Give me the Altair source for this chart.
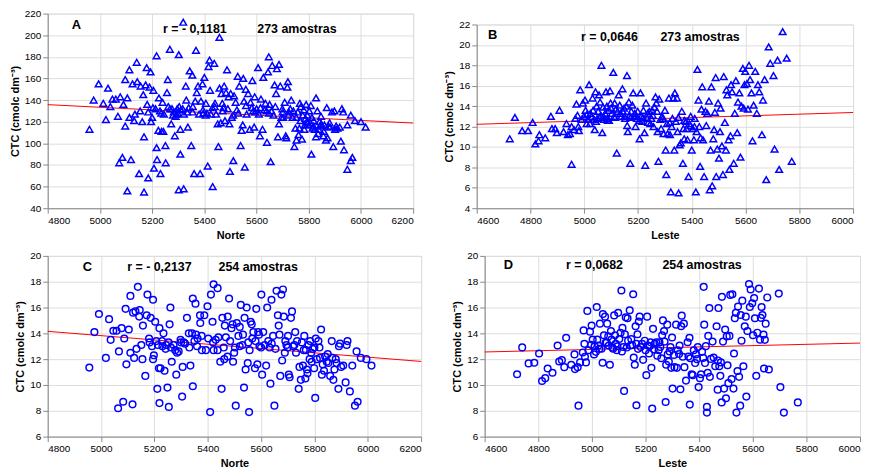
import altair as alt
import pandas as pd

# ---------------- data ----------------
# Panel A: Norte vs CTC (mmolc dm-3 scale), 273 amostras
A_points = [(4960,113),(4976,140),(4995,155),(5013,137),(5023,122),(5031,151),(5040,134),(5048,141),(5061,141),(5069,125),
(5074,82),(5078,143),(5086,87),(5090,136),(5097,116),(5097,159),(5105,56),(5105,142),(5113,168),(5113,124),
(5119,85),(5125,155),(5131,121),(5134,127),(5141,175),(5143,157),(5150,72),(5154,130),(5156,153),(5162,120),
(5166,145),(5169,106),(5169,55),(5175,154),(5179,170),(5181,136),(5185,129),(5185,68),(5190,152),(5194,166),
(5196,120),(5200,124),(5203,133),(5205,149),(5207,77),(5213,132),(5217,96),(5217,181),(5219,85),(5224,112),
(5226,142),(5230,130),(5232,72),(5236,111),(5240,138),(5243,111),(5245,127),(5251,98),(5252,82),(5257,147),
(5260,159),(5268,187),(5268,132),(5273,118),(5276,132),(5283,129),(5287,107),(5290,125),(5293,127),(5296,132),
(5302,57),(5302,182),(5304,134),(5308,90),(5308,113),(5317,132),(5321,58),(5319,212),(5329,153),(5331,140),
(5334,129),(5337,115),(5344,167),(5350,98),(5354,163),(5356,134),(5361,72),(5365,139),(5368,186),(5371,147),
(5376,153),(5380,127),(5384,72),(5387,139),(5393,155),(5396,128),(5400,161),(5406,137),(5410,128),(5413,79),
(5416,171),(5420,177),(5422,149),(5425,127),(5431,133),(5432,60),(5438,174),(5441,137),(5445,127),(5451,118),
(5454,97),(5458,198),(5458,151),(5463,119),(5466,146),(5469,137),(5473,133),(5476,153),(5479,121),(5483,147),
(5487,168),(5490,132),(5493,143),(5496,118),(5498,74),(5501,146),(5505,124),(5511,84),(5514,144),(5520,138),
(5528,162),(5530,128),(5534,153),(5539,98),(5543,112),(5547,117),(5549,160),(5552,139),(5555,78),(5559,150),
(5562,127),(5568,146),(5574,113),(5577,138),(5582,133),(5584,158),(5587,130),(5591,115),(5593,143),(5600,132),
(5606,170),(5609,127),(5613,107),(5617,141),(5623,113),(5626,161),(5630,131),(5634,137),(5638,130),(5640,101),
(5644,166),(5647,180),(5650,136),(5654,83),(5657,130),(5660,172),(5665,126),(5669,154),(5675,146),(5678,169),
(5682,106),(5686,173),(5686,118),(5691,153),(5695,124),(5699,132),(5702,124),(5708,138),(5712,107),(5714,105),
(5718,152),(5720,157),(5724,129),(5729,132),(5733,140),(5738,124),(5741,130),(5745,97),(5749,114),(5753,103),
(5758,129),(5761,108),(5764,114),(5766,137),(5770,134),(5774,104),(5777,126),(5781,131),(5783,113),(5787,123),
(5790,136),(5792,120),(5796,119),(5800,117),(5802,130),(5808,135),(5810,90),(5812,124),(5815,114),(5819,121),
(5823,113),(5828,142),(5828,106),(5833,130),(5836,109),(5841,120),(5845,117),(5847,125),(5851,116),(5856,107),
(5860,117),(5866,103),(5869,133),(5872,105),(5876,116),(5882,115),(5889,129),(5894,97),(5898,130),(5901,113),
(5910,114),(5919,115),(5923,102),(5927,132),(5932,129),(5935,94),(5948,117),(5948,76),(5961,126),(5961,84),
(5967,87),(5977,121),(6000,120),(6018,115),
(5235,128),(5262,134),(5280,126),(5298,128),(5310,131),(5322,127),(5340,133),(5355,129),(5395,131),(5405,126),
(5440,134),(5470,130),(5510,126),(5525,131),(5560,135),(5595,129),(5615,133),(5648,128),(5672,134),(5700,129),
(5722,126),(5752,124),(5768,121),(5785,117),(5795,126),(5806,119),(5818,116),(5838,113),(5848,118),(5858,111),
(5880,119),(5905,116)]

# Panel B: Leste vs CTC (cmolc dm-3), 273 amostras
B_points = [(4723,10.8),(4742,12.9),(4769,11.6),(4791,11.6),(4808,12.4),(4818,10.3),(4830,10.6),(4833,11.2),(4855,10.9),(4876,13.0),
(4880,11.8),(4892,11.8),(4898,11.4),(4908,13.6),(4923,11.5),(4934,12.3),(4939,11.2),(4947,11.3),(4953,8.3),(4953,12.0),
(4962,11.7),(4967,12.8),(4971,14.2),(4975,13.1),(4978,12.0),(4980,11.6),(4985,15.6),(4990,12.7),(4995,14.3),(4999,13.0),
(5003,14.6),(5005,13.6),(5009,12.3),(5014,12.7),(5018,16.1),(5021,12.3),(5023,13.3),(5027,13.0),(5031,14.8),(5036,12.7),
(5039,11.7),(5042,15.4),(5046,14.0),(5048,12.8),(5052,13.5),(5055,15.1),(5059,14.4),(5062,13.1),(5064,18.0),(5067,11.4),
(5070,13.9),(5074,12.7),(5078,13.3),(5081,15.4),(5084,14.0),(5086,12.8),(5090,13.6),(5092,12.6),(5096,15.5),(5098,14.3),
(5103,13.3),(5108,17.3),(5111,13.0),(5113,14.3),(5117,13.7),(5121,9.4),(5124,13.5),(5128,15.1),(5132,14.1),(5138,13.0),
(5142,15.7),(5144,13.5),(5148,13.8),(5150,13.0),(5156,14.0),(5159,17.0),(5160,12.1),(5162,11.5),(5166,14.4),(5169,13.1),
(5171,8.4),(5175,13.5),(5179,14.1),(5182,15.3),(5185,13.0),(5188,13.3),(5191,12.0),(5196,12.8),(5199,13.5),(5206,10.8),
(5209,15.3),(5212,13.0),(5215,12.5),(5220,13.6),(5224,11.4),(5227,8.2),(5230,14.3),(5234,12.8),(5236,13.3),(5242,13.5),
(5246,12.3),(5250,12.8),(5255,13.1),(5258,12.0),(5261,13.9),(5265,14.9),(5268,14.3),(5271,13.5),(5273,11.5),(5276,8.6),
(5279,14.7),(5283,12.7),(5286,11.8),(5292,12.8),(5295,11.3),(5300,13.6),(5303,9.7),(5305,7.3),(5308,12.3),(5310,11.3),
(5315,14.8),(5319,11.2),(5322,5.6),(5325,12.0),(5328,12.8),(5332,14.8),(5335,9.7),(5337,15.3),(5341,12.5),(5345,14.8),
(5347,11.5),(5351,5.5),(5355,10.2),(5359,10.4),(5363,13.5),(5367,8.4),(5369,11.8),(5372,10.8),(5378,12.5),(5381,11.8),
(5384,10.7),(5388,7.1),(5391,12.3),(5396,13.0),(5400,9.7),(5404,11.8),(5408,10.7),(5411,12.8),(5415,5.6),(5418,11.5),
(5421,17.6),(5425,14.6),(5428,12.0),(5431,8.1),(5433,10.9),(5436,13.7),(5439,15.9),(5442,10.7),(5446,7.1),(5451,13.5),
(5454,12.1),(5458,13.3),(5464,14.5),(5467,5.8),(5470,9.7),(5473,15.9),(5476,6.2),(5480,10.8),(5483,11.7),(5486,13.4),
(5489,16.8),(5491,7.1),(5495,9.8),(5498,14.3),(5501,8.9),(5505,11.5),(5507,13.8),(5512,10.1),(5516,7.3),(5519,16.9),
(5523,12.4),(5527,9.7),(5529,15.6),(5532,15.1),(5537,10.7),(5540,7.8),(5544,11.1),(5546,16.1),(5550,15.4),(5556,8.4),
(5560,13.3),(5564,16.5),(5569,11.4),(5572,14.4),(5577,15.3),(5581,9.0),(5585,14.0),(5590,17.7),(5593,13.8),(5596,16.1),
(5599,17.4),(5605,16.2),(5609,13.7),(5613,18.0),(5617,16.6),(5622,15.3),(5626,10.6),(5630,14.1),(5636,17.4),(5642,13.3),
(5646,16.1),(5651,15.4),(5661,11.2),(5665,14.6),(5671,16.6),(5677,6.8),(5686,19.8),(5692,18.2),(5704,17.0),(5708,9.8),
(5719,18.5),(5725,7.8),(5738,21.3),(5753,18.7),(5772,8.6),
(5010,13.2),(5033,13.6),(5044,12.5),(5058,12.9),(5072,13.0),(5088,12.6),(5100,13.8),(5115,12.9),(5135,13.3),(5152,12.8),
(5172,12.9),(5193,13.1),(5205,12.6),(5218,12.9),(5238,12.4),(5252,13.6),(5290,13.0),(5318,12.4),(5350,12.9),(5372,12.6),
(5395,12.1),(5410,12.0)]

# Panel C: Norte vs CTC (cmolc dm-3), 254 amostras
C_points = [(4956,11.35),(4975,14.1),(4992,15.5),(5018,12.1),(5030,15.1),(5036,13.5),(5046,14.2),(5058,14.2),(5064,8.2),(5067,12.6),
(5077,14.4),(5083,8.7),(5087,13.6),(5092,15.9),(5095,11.6),(5104,14.3),(5110,12.5),(5110,16.9),(5118,8.5),(5120,15.6),
(5124,12.1),(5129,15.7),(5133,12.8),(5138,17.6),(5143,15.3),(5145,15.8),(5151,13.1),(5155,12.0),(5157,14.6),(5166,10.7),
(5171,15.4),(5174,17.0),(5180,13.6),(5182,13.3),(5186,15.2),(5191,13.0),(5195,12.0),(5195,16.6),(5198,12.3),(5203,14.9),
(5207,13.4),(5211,9.7),(5213,13.1),(5217,11.3),(5219,14.4),(5219,8.6),(5223,11.3),(5229,13.4),(5234,14.0),(5238,11.1),
(5242,12.8),(5244,13.1),(5249,9.8),(5253,13.3),(5254,8.3),(5257,14.7),(5260,16.0),(5265,11.8),(5272,13.1),(5278,12.7),
(5282,10.8),(5285,12.5),(5291,12.6),(5298,13.5),(5304,9.1),(5306,11.4),(5310,13.3),(5315,13.2),(5322,15.2),(5329,14.0),
(5331,12.9),(5335,11.5),(5341,14.0),(5344,9.9),(5344,16.7),(5350,13.4),(5354,16.3),(5356,13.9),(5362,13.6),(5371,15.4),
(5372,14.8),(5377,13.8),(5378,12.7),(5387,15.4),(5393,12.7),(5399,16.1),(5402,13.6),(5409,7.9),(5412,17.0),(5418,14.9),
(5422,17.8),(5422,12.7),(5430,13.5),(5437,17.5),(5437,12.7),(5440,13.7),(5447,11.8),(5452,9.7),(5455,15.2),(5462,12.0),
(5464,14.6),(5468,13.7),(5474,12.2),(5475,15.3),(5480,16.7),(5484,13.4),(5489,14.4),(5493,14.7),(5495,11.8),(5499,12.5),
(5502,12.9),(5505,8.4),(5509,14.8),(5515,13.8),(5520,14.5),(5524,16.2),(5530,13.1),(5532,13.9),(5536,9.8),(5538,15.2),
(5542,11.2),(5546,16.0),(5550,11.7),(5552,13.3),(5555,7.9),(5557,12.7),(5561,14.9),(5565,14.7),(5567,13.6),(5571,14.1),
(5577,11.3),(5579,13.4),(5582,15.9),(5586,11.6),(5589,14.1),(5592,13.9),(5594,13.0),(5601,17.0),(5604,10.8),(5608,14.1),
(5614,13.1),(5619,11.5),(5623,16.0),(5627,13.4),(5632,12.9),(5635,10.1),(5639,16.6),(5645,13.8),(5650,8.4),(5654,12.8),
(5658,17.3),(5663,15.4),(5666,14.6),(5669,13.9),(5672,10.7),(5676,17.0),(5679,11.9),(5682,17.4),(5685,15.3),(5689,12.5),
(5691,13.4),(5695,13.1),(5701,13.8),(5704,10.8),(5707,10.6),(5712,15.2),(5716,15.7),(5720,13.0),(5725,13.1),(5728,14.1),
(5731,12.5),(5735,13.4),(5741,9.7),(5744,11.4),(5749,10.4),(5753,13.3),(5757,11.5),(5762,13.8),(5766,10.5),(5768,12.7),
(5772,11.2),(5774,10.9),(5778,13.1),(5782,12.0),(5784,13.4),(5788,12.5),(5790,11.8),(5794,12.8),(5799,11.3),(5803,9.0),
(5805,13.6),(5809,12.0),(5815,13.4),(5819,12.9),(5821,12.1),(5825,14.3),(5828,10.8),(5831,11.6),(5836,11.1),(5840,12.2),
(5846,11.8),(5852,11.7),(5859,10.7),(5865,13.4),(5867,12.1),(5871,10.4),(5875,11.2),(5883,11.7),(5890,9.7),(5892,13.0),
(5896,13.2),(5900,11.4),(5908,11.5),(5917,10.2),(5921,13.1),(5924,13.4),(5933,9.5),(5942,11.5),(5952,8.4),(5962,8.7),
(5958,12.6),(5974,12.1),(5995,12.0),(6014,11.5),
(5230,13.0),(5262,12.9),(5300,13.3),(5360,13.0),(5420,13.3),(5460,12.9),(5520,13.0),(5600,12.9),(5640,13.2),(5700,12.9),
(5760,12.7),(5800,12.9),(5850,12.4),(5880,12.0)]

# Panel D: Leste vs CTC (cmolc dm-3), 254 amostras
D_points = [(4721,10.83),(4740,12.91),(4764,11.67),(4785,11.72),(4803,12.44),(4814,10.31),(4826,10.53),(4835,11.28),(4853,10.95),(4872,13.06),
(4878,11.82),(4888,11.92),(4897,11.38),(4904,13.66),(4923,11.57),(4935,12.37),(4937,11.23),(4947,11.38),(4950,8.40),(4956,11.75),
(4966,12.52),(4969,14.23),(4972,13.19),(4974,12.19),(4978,11.75),(4983,15.74),(4987,12.69),(4993,14.13),(4997,13.11),(4999,14.60),
(5003,13.51),(5008,12.37),(5015,12.57),(5018,16.04),(5020,13.51),(5024,13.06),(5030,14.75),(5036,12.81),(5040,11.72),(5041,15.49),
(5045,13.85),(5049,15.29),(5051,13.26),(5057,14.75),(5061,13.76),(5063,13.06),(5067,11.57),(5071,14.18),(5073,13.51),(5079,12.81),
(5083,15.39),(5086,13.85),(5089,13.19),(5093,12.69),(5098,15.59),(5102,13.56),(5107,14.05),(5110,17.32),(5114,14.42),(5117,12.94),
(5120,9.54),(5123,13.93),(5126,15.24),(5133,15.17),(5135,13.43),(5141,15.79),(5144,13.06),(5147,13.56),(5154,17.03),(5156,12.12),
(5160,11.57),(5163,14.55),(5166,13.19),(5166,8.43),(5170,13.93),(5175,14.92),(5178,15.29),(5182,12.94),(5187,13.19),(5191,11.95),
(5197,13.43),(5203,10.76),(5206,15.29),(5209,13.06),(5213,12.44),(5219,13.31),(5222,11.33),(5225,8.18),(5228,14.35),(5231,12.76),
(5234,13.19),(5240,13.31),(5244,12.27),(5249,12.69),(5255,12.94),(5259,12.07),(5262,13.85),(5265,15.00),(5269,14.18),(5271,13.36),
(5275,8.68),(5277,11.57),(5281,14.67),(5283,12.37),(5287,11.82),(5293,12.94),(5296,11.33),(5299,13.68),(5301,9.72),(5306,12.32),
(5308,11.38),(5314,14.67),(5317,11.33),(5320,12.69),(5327,13.06),(5330,9.67),(5333,14.55),(5335,15.37),(5339,12.19),(5343,14.75),
(5345,11.38),(5351,10.34),(5357,13.31),(5364,13.66),(5365,8.48),(5367,12.07),(5372,10.83),(5376,10.76),(5380,12.69),(5385,11.70),
(5388,12.37),(5395,12.94),(5398,9.84),(5403,10.53),(5407,10.83),(5411,12.57),(5417,17.60),(5419,14.67),(5422,11.70),(5425,13.01),
(5429,7.86),(5429,8.30),(5432,10.95),(5434,13.80),(5438,15.96),(5440,10.63),(5444,12.02),(5450,13.36),(5454,12.12),(5460,11.45),
(5465,14.55),(5469,9.64),(5472,15.96),(5475,11.45),(5479,10.71),(5481,11.75),(5484,8.65),(5485,16.83),(5489,13.36),(5493,9.72),
(5497,14.30),(5500,8.97),(5503,13.76),(5506,11.53),(5509,10.14),(5513,13.80),(5516,16.98),(5521,10.46),(5524,17.03),(5528,9.72),
(5530,12.44),(5533,15.17),(5537,15.59),(5539,7.86),(5543,11.08),(5545,16.08),(5549,10.63),(5553,8.40),(5555,15.42),(5558,13.43),
(5561,16.53),(5565,11.45),(5570,14.55),(5574,15.29),(5576,9.10),(5580,14.18),(5586,17.82),(5589,16.04),(5592,17.40),(5598,16.33),
(5601,13.85),(5605,16.73),(5608,15.17),(5613,10.71),(5617,14.05),(5623,17.47),(5627,13.51),(5633,16.04),(5636,15.42),(5642,11.28),
(5648,14.75),(5654,16.78),(5697,17.08),(5703,9.84),(5716,7.86),(5768,8.65),(5660,11.20),(5630,15.20),(5640,13.90),(5645,13.50),
(5010,13.0),(5028,12.8),(5055,13.3),(5076,12.9),(5095,13.0),(5112,12.6),(5130,12.9),(5150,13.1),(5172,12.8),(5200,12.7),
(5215,13.0),(5252,13.3),(5290,12.6),(5325,12.4),(5360,12.2),(5392,12.0),(5415,12.1),(5470,11.9)]

letters = ["A", "B", "C", "D"]
r_texts = ["r = - 0,1181", "r = 0,0646", "r = - 0,2137", "r = 0,0682"]
n_texts = ["273 amostras", "273 amostras", "254 amostras", "254 amostras"]
x_titles = ["Norte", "Leste", "Norte", "Leste"]
y_title = "CTC (cmolc dm⁻³)"

A_xticks = [4800, 5000, 5200, 5400, 5600, 5800, 6000, 6200]
B_xticks = [4600, 4800, 5000, 5200, 5400, 5600, 5800, 6000]
A_yticks = [40, 60, 80, 100, 120, 140, 160, 180, 200, 220]
B_yticks = [4, 6, 8, 10, 12, 14, 16, 18, 20, 22]
C_yticks = [6, 8, 10, 12, 14, 16, 18, 20]

FONT = "Liberation Sans"


def panel(pts, shape, xticks, yticks, idx, w, h, lpos, rpos, npos):
    df = pd.DataFrame(pts, columns=["x", "y"])
    xdom = [xticks[0], xticks[-1]]
    ydom = [yticks[0], yticks[-1]]
    xenc = alt.X("x:Q", scale=alt.Scale(domain=xdom, nice=False, zero=False),
                 axis=alt.Axis(values=xticks, tickCount=len(xticks) + 2, title=x_titles[idx], format="d"))
    yenc = alt.Y("y:Q", scale=alt.Scale(domain=ydom, nice=False, zero=False),
                 axis=alt.Axis(values=yticks, tickCount=len(yticks) + 2, title=y_title, format="d"))
    pts_layer = alt.Chart(df).mark_point(
        shape=shape, filled=False, color="#0000ff", size=45, strokeWidth=1.5, opacity=1
    ).encode(x=xenc, y=yenc)
    line = alt.Chart(df).transform_regression("x", "y", extent=xdom).mark_line(
        color="#ff0000", strokeWidth=1
    ).encode(x="x:Q", y="y:Q")

    def txt(s, pos, size, align):
        return alt.Chart(pd.DataFrame({"t": [s]})).mark_text(
            font=FONT, fontWeight="bold", fontSize=size, align=align, baseline="middle", color="black"
        ).encode(text="t:N", x=alt.value(pos[0]), y=alt.value(pos[1]))

    layers = [line, pts_layer,
              txt(letters[idx], lpos, 13, "center"),
              txt(r_texts[idx], rpos, 12.5, "left"),
              txt(n_texts[idx], npos, 12.5, "left")]
    return alt.layer(*layers).properties(width=w, height=h)


# invisible spacer that lowers panel B by a few pixels, as in the original layout
spacer = alt.Chart(pd.DataFrame({"v": [0]})).mark_point(opacity=0, size=0).encode(
    x=alt.value(0), y=alt.value(0)
).properties(width=10, height=4, view=alt.ViewConfig(stroke="transparent"))

pA = panel(A_points, "triangle-up", A_xticks, A_yticks, 0, 368, 196, (29, 12), (116, 16), (211, 16))
pB = panel(B_points, "triangle-up", B_xticks, B_yticks, 1, 379, 185, (16, 11), (105, 13), (185, 13))
pC = panel(C_points, "circle", A_xticks, C_yticks, 2, 376, 182, (40, 11), (80, 11), (172, 11))
pD = panel(D_points, "circle", B_xticks, C_yticks, 3, 378, 182, (24, 9), (82, 9), (179, 9))

row1 = alt.hconcat(pA, alt.vconcat(spacer, pB, spacing=0), spacing=27)
row2 = alt.hconcat(pC, pD, spacing=27)

chart = alt.vconcat(row1, row2, spacing=9).properties(
    padding={"left": 0, "top": -2, "right": 0, "bottom": 2}
).configure_view(
    stroke="#333333", strokeWidth=1
).configure_axis(
    labelFont=FONT, labelFontWeight="bold", labelFontSize=8, labelColor="black",
    titleFont=FONT, titleFontWeight="bold", titleFontSize=8, titleColor="black",
    grid=True, gridColor="#999999", gridDash=[1, 2], gridWidth=1,
    domain=False, ticks=False, tickSize=0, labelPadding=3, titlePadding=10,
    labelOverlap=False, minExtent=0,
).configure_axisX(
    titlePadding=0, titleFontSize=9, labelPadding=1
).configure(background="white")

chart.save("out.html", embed_options={"renderer": "svg", "actions": False})
